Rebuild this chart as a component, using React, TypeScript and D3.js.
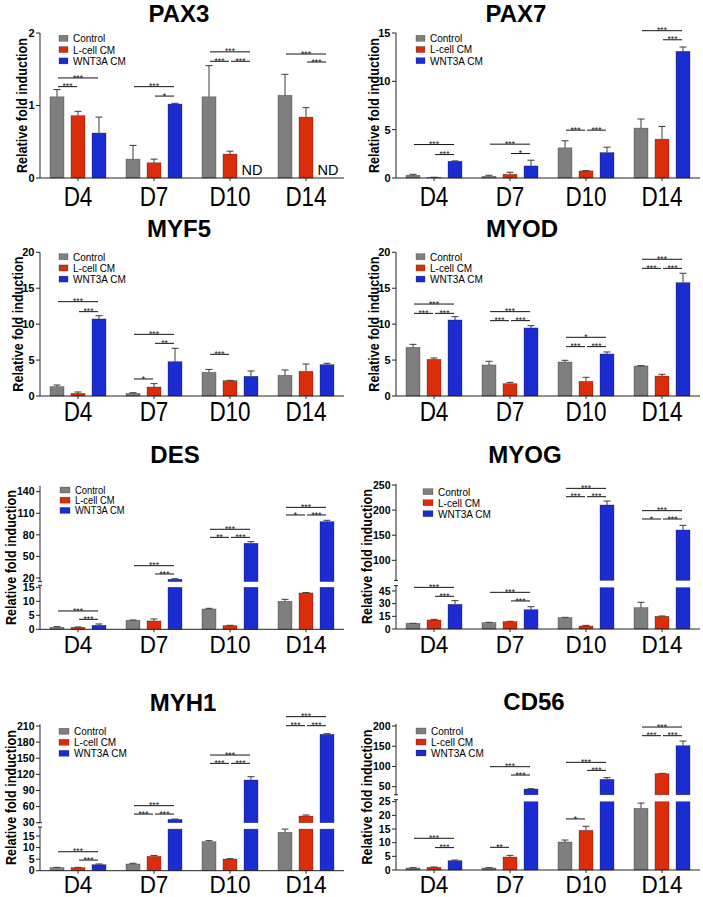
import React from 'react';
import * as d3 from 'd3';

const DAYS = ['D4', 'D7', 'D10', 'D14'];
const SERIES = ['Control', 'L-cell CM', 'WNT3A CM'];
const COLORS = ['#7f7f7f', '#dc2d0b', '#1b2dd1'];
const FONT = "'Liberation Sans', Arial, Helvetica, sans-serif";

// ---- data: means (null = ND) and SD, per gene, series order Control / L-cell / WNT3A ----
const pax3Control = [1.12, 0.26, 1.12, 1.14];
const pax3ControlSd = [0.1, 0.19, 0.43, 0.29];
const pax3Lcell = [0.86, 0.21, 0.33, 0.84];
const pax3LcellSd = [0.06, 0.05, 0.04, 0.13];
const pax3Wnt = [0.62, 1.02, null, null];
const pax3WntSd = [0.22, 0.01, 0, 0];

const pax7Control = [0.28, 0.17, 3.12, 5.16];
const pax7ControlSd = [0.1, 0.11, 0.73, 0.94];
const pax7Lcell = [0.05, 0.38, 0.73, 4.02];
const pax7LcellSd = [0.03, 0.21, 0.03, 1.31];
const pax7Wnt = [1.73, 1.25, 2.63, 13.1];
const pax7WntSd = [0.04, 0.59, 0.56, 0.45];

const myf5Control = [1.3, 0.37, 3.29, 2.88];
const myf5ControlSd = [0.23, 0.09, 0.41, 0.74];
const myf5Lcell = [0.37, 1.25, 2.13, 3.43];
const myf5LcellSd = [0.19, 0.47, 0.05, 1.02];
const myf5Wnt = [10.72, 4.78, 2.74, 4.36];
const myf5WntSd = [0.46, 1.86, 0.74, 0.19];

const myodControl = [6.77, 4.32, 4.73, 4.18];
const myodControlSd = [0.42, 0.51, 0.24, 0.04];
const myodLcell = [5.1, 1.72, 2.04, 2.78];
const myodLcellSd = [0.19, 0.18, 0.56, 0.24];
const myodWnt = [10.58, 9.47, 5.85, 15.78];
const myodWntSd = [0.46, 0.32, 0.28, 1.3];

const desControl = [0.71, 3.2, 7.26, 10.0];
const desControlSd = [0.24, 0.13, 0.24, 0.7];
const desLcell = [0.7, 2.98, 1.31, 12.98];
const desLcellSd = [0.13, 0.72, 0.12, 0.12];
const desWnt = [1.43, 18.2, 68.2, 98.3];
const desWntSd = [0.47, 0.8, 2.3, 1.9];

const myogControl = [6.7, 7.5, 13.4, 25.3];
const myogControlSd = [0.1, 0.4, 0.4, 6.3];
const myogLcell = [10.66, 8.7, 3.55, 15.0];
const myogLcellSd = [0.74, 0.4, 0.75, 0.4];
const myogWnt = [29.2, 22.9, 210.2, 160.4];
const myogWntSd = [4.4, 3.5, 7.9, 9.3];

const myh1Control = [1.3, 2.9, 12.55, 16.6];
const myh1ControlSd = [0.14, 0.3, 0.45, 1.4];
const myh1Lcell = [1.3, 6.2, 5.05, 42.4];
const myh1LcellSd = [0.14, 0.4, 0.15, 1.9];
const myh1Wnt = [2.6, 36.2, 109.5, 194.5];
const myh1WntSd = [0.3, 0.6, 6.2, 1.2];

const cd56Control = [0.73, 0.73, 10.24, 22.56];
const cd56ControlSd = [0.12, 0.12, 0.74, 1.94];
const cd56Lcell = [0.98, 4.76, 14.5, 82.1];
const cd56LcellSd = [0.12, 0.61, 1.5, 0.9];
const cd56Wnt = [3.41, 44.2, 68.1, 151.4];
const cd56WntSd = [0.25, 0.8, 4.2, 11.5];

// significance: [dayIndex, fromSeries, toSeries, level, label, segment(0 lower / 1 upper)]
type Ann = [number, number, number, number, string, number];
const pax3Sig: Ann[] = [
  [0, 0, 1, 1.26, '***', 0], [0, 0, 2, 1.38, '***', 0],
  [1, 0, 2, 1.26, '***', 0], [1, 1, 2, 1.13, '*', 0],
  [2, 0, 2, 1.74, '***', 0], [2, 0, 1, 1.61, '***', 0], [2, 1, 2, 1.61, '***', 0],
  [3, 0, 2, 1.71, '***', 0], [3, 1, 2, 1.6, '***', 0],
];
const pax7Sig: Ann[] = [
  [0, 0, 2, 3.46, '***', 0], [0, 1, 2, 2.42, '***', 0],
  [1, 0, 2, 3.5, '***', 0], [1, 1, 2, 2.53, '*', 0],
  [2, 0, 1, 4.95, '***', 0], [2, 1, 2, 4.95, '***', 0],
  [3, 0, 2, 15.24, '***', 0], [3, 1, 2, 14.3, '***', 0],
];
const myf5Sig: Ann[] = [
  [0, 0, 2, 13.13, '***', 0], [0, 1, 2, 11.74, '***', 0],
  [1, 0, 2, 8.58, '***', 0], [1, 1, 2, 7.33, '**', 0], [1, 0, 1, 2.37, '*', 0],
  [2, 0, 1, 5.8, '***', 0],
];
const myodSig: Ann[] = [
  [0, 0, 2, 12.8, '***', 0], [0, 0, 1, 11.5, '***', 0], [0, 1, 2, 11.5, '***', 0],
  [1, 0, 2, 11.74, '***', 0], [1, 0, 1, 10.49, '***', 0], [1, 1, 2, 10.49, '***', 0],
  [2, 0, 2, 8.17, '*', 0], [2, 0, 1, 6.87, '***', 0], [2, 1, 2, 6.87, '***', 0],
  [3, 0, 2, 19.03, '***', 0], [3, 0, 1, 17.77, '***', 0], [3, 1, 2, 17.77, '***', 0],
];
const desSig: Ann[] = [
  [0, 0, 2, 6.55, '***', 0], [0, 1, 2, 3.57, '***', 0],
  [1, 0, 2, 37.1, '***', 1], [1, 1, 2, 25.6, '***', 1],
  [2, 0, 2, 87.7, '***', 1], [2, 0, 1, 76.5, '**', 1], [2, 1, 2, 76.5, '***', 1],
  [3, 0, 2, 118.2, '***', 1], [3, 0, 1, 107.6, '*', 1], [3, 1, 2, 107.6, '***', 1],
];
const myogSig: Ann[] = [
  [0, 0, 2, 49.3, '***', 0], [0, 1, 2, 38.7, '***', 0],
  [1, 0, 2, 43.4, '***', 0], [1, 1, 2, 33.2, '***', 0],
  [2, 0, 2, 243.3, '***', 1], [2, 0, 1, 226.7, '***', 1], [2, 1, 2, 226.7, '***', 1],
  [3, 0, 2, 198.9, '***', 1], [3, 0, 1, 182.3, '*', 1], [3, 1, 2, 182.3, '***', 1],
];
const myh1Sig: Ann[] = [
  [0, 0, 2, 8.2, '***', 0], [0, 1, 2, 4.6, '***', 0],
  [1, 0, 2, 61.7, '***', 1], [1, 0, 1, 46.1, '***', 1], [1, 1, 2, 46.1, '***', 1],
  [2, 0, 2, 156, '***', 1], [2, 0, 1, 140.5, '***', 1], [2, 1, 2, 140.5, '***', 1],
  [3, 0, 2, 227.4, '***', 1], [3, 0, 1, 210.6, '***', 1], [3, 1, 2, 210.6, '***', 1],
];
const cd56Sig: Ann[] = [
  [0, 0, 2, 11.6, '***', 0], [0, 1, 2, 8.2, '***', 0],
  [1, 0, 1, 8.3, '**', 0], [1, 0, 2, 99.5, '***', 1], [1, 1, 2, 78.9, '***', 1],
  [2, 0, 1, 18.7, '*', 0], [2, 0, 2, 110.2, '***', 1], [2, 1, 2, 90.4, '***', 1],
  [3, 0, 2, 197.5, '***', 1], [3, 0, 1, 176.1, '***', 1], [3, 1, 2, 176.1, '***', 1],
];

// axis ticks
const pax3Ticks = [0, 1, 2];
const pax7Ticks = [0, 5, 10, 15];
const myoTicks = [0, 5, 10, 15, 20];
const desLowTicks = [0, 5, 10, 15];
const desHighTicks = [20, 50, 80, 110, 140];
const myogLowTicks = [0, 15, 30, 45];
const myogHighTicks = [100, 150, 200, 250];
const myh1LowTicks = [0, 5, 10, 15];
const myh1HighTicks = [30, 60, 90, 120, 150, 180, 210];
const cd56LowTicks = [0, 5, 10, 15, 20, 25];
const cd56HighTicks = [50, 100, 150, 200];

type Seg = { domain: [number, number]; range: [number, number]; ticks: number[] };
type Cfg = {
  title: string; titleX: number; titleY: number;
  axisX: number; segs: Seg[];
  means: (number | null)[][]; sds: number[][]; sig: Ann[];
  yTitleX: number; legX: number; legY: number; legStep: number; swW: number; legFont: number;
  labY: number; labScale: number;
};

const PANELS: Cfg[] = [
  {
    title: 'PAX3', titleX: 179, titleY: 22, axisX: 40,
    segs: [{ domain: [0, 2], range: [178, 33], ticks: pax3Ticks }],
    means: [pax3Control, pax3Lcell, pax3Wnt], sds: [pax3ControlSd, pax3LcellSd, pax3WntSd], sig: pax3Sig,
    yTitleX: 21, legX: 59, legY: 38.3, legStep: 11.3, swW: 9, legFont: 10, labY: 206, labScale: 1.25,
  },
  {
    title: 'PAX7', titleX: 516, titleY: 22, axisX: 396,
    segs: [{ domain: [0, 15], range: [178, 33], ticks: pax7Ticks }],
    means: [pax7Control, pax7Lcell, pax7Wnt], sds: [pax7ControlSd, pax7LcellSd, pax7WntSd], sig: pax7Sig,
    yTitleX: 373, legX: 416, legY: 38.3, legStep: 11.2, swW: 9, legFont: 10, labY: 206, labScale: 1.25,
  },
  {
    title: 'MYF5', titleX: 179, titleY: 237, axisX: 40,
    segs: [{ domain: [0, 20], range: [396, 252.3], ticks: myoTicks }],
    means: [myf5Control, myf5Lcell, myf5Wnt], sds: [myf5ControlSd, myf5LcellSd, myf5WntSd], sig: myf5Sig,
    yTitleX: 17, legX: 59, legY: 256.7, legStep: 11.2, swW: 9, legFont: 10, labY: 421, labScale: 1.25,
  },
  {
    title: 'MYOD', titleX: 522, titleY: 237, axisX: 396,
    segs: [{ domain: [0, 20], range: [396, 252.3], ticks: myoTicks }],
    means: [myodControl, myodLcell, myodWnt], sds: [myodControlSd, myodLcellSd, myodWntSd], sig: myodSig,
    yTitleX: 373, legX: 416, legY: 256.7, legStep: 11.2, swW: 9, legFont: 10, labY: 421, labScale: 1.25,
  },
  {
    title: 'DES', titleX: 175, titleY: 463, axisX: 40,
    segs: [
      { domain: [0, 15], range: [629.3, 587.3], ticks: desLowTicks },
      { domain: [15, 148], range: [581.6, 485.9], ticks: desHighTicks },
    ],
    means: [desControl, desLcell, desWnt], sds: [desControlSd, desLcellSd, desWntSd], sig: desSig,
    yTitleX: 10, legX: 60, legY: 490, legStep: 10.2, swW: 10, legFont: 9.4, labY: 653, labScale: 1.05,
  },
  {
    title: 'MYOG', titleX: 525, titleY: 463, axisX: 396,
    segs: [
      { domain: [0, 49], range: [629, 587.6], ticks: myogLowTicks },
      { domain: [60, 252], range: [580.4, 484], ticks: myogHighTicks },
    ],
    means: [myogControl, myogLcell, myogWnt], sds: [myogControlSd, myogLcellSd, myogWntSd], sig: myogSig,
    yTitleX: 366, legX: 423, legY: 491.7, legStep: 11, swW: 10, legFont: 10, labY: 653, labScale: 1.05,
  },
  {
    title: 'MYH1', titleX: 183, titleY: 711, axisX: 40,
    segs: [
      { domain: [0, 18], range: [870.7, 829.1], ticks: myh1LowTicks },
      { domain: [30, 213], range: [822.7, 724.4], ticks: myh1HighTicks },
    ],
    means: [myh1Control, myh1Lcell, myh1Wnt], sds: [myh1ControlSd, myh1LcellSd, myh1WntSd], sig: myh1Sig,
    yTitleX: 10, legX: 59, legY: 731.3, legStep: 11, swW: 10, legFont: 10, labY: 893, labScale: 1.05,
  },
  {
    title: 'CD56', titleX: 534, titleY: 710, axisX: 396,
    segs: [
      { domain: [0, 25], range: [870, 801.7], ticks: cd56LowTicks },
      { domain: [30, 205], range: [794.8, 724], ticks: cd56HighTicks },
    ],
    means: [cd56Control, cd56Lcell, cd56Wnt], sds: [cd56ControlSd, cd56LcellSd, cd56WntSd], sig: cd56Sig,
    yTitleX: 366, legX: 416, legY: 731, legStep: 11, swW: 10, legFont: 10, labY: 893, labScale: 1.05,
  },
];

const AXIS_W = 304;

function Panel({ c }: { c: Cfg }) {
  const x = d3.scaleBand<string>().domain(DAYS).range([c.axisX, c.axisX + AXIS_W]);
  const inner = d3.scaleBand<string>().domain(SERIES).range([-28, 28]).paddingInner(1 / 3);
  const scales = c.segs.map((s) => d3.scaleLinear().domain(s.domain).range(s.range));
  const broken = c.segs.length > 1;
  const loMax = c.segs[0].domain[1];
  const yOf = (v: number) => (broken && v > loMax ? scales[1](v) : scales[0](v));
  const bw = inner.bandwidth();
  const barX = (d: number, s: number) => (x(DAYS[d]) as number) + x.bandwidth() / 2 + (inner(SERIES[s]) as number);
  const barC = (d: number, s: number) => barX(d, s) + bw / 2;
  const y0 = scales[0](0);
  const top = Math.min(...c.segs.map((s) => s.range[1]));
  const bottom = y0;

  const bars: React.ReactNode[] = [];
  c.means.forEach((arr, s) => {
    arr.forEach((v, d) => {
      const bx = barX(d, s);
      if (v === null) {
        bars.push(
          <text key={`nd${s}${d}`} x={bx + bw / 2 + 1} y={y0 - 3} textAnchor="middle" fontSize={14.5} fontFamily={FONT}>ND</text>
        );
        return;
      }
      const stroke = 'rgba(0,0,0,0.45)';
      if (!broken || v <= loMax) {
        const yt = scales[0](v);
        bars.push(<rect key={`b${s}${d}`} x={bx} y={yt} width={bw} height={y0 - yt} fill={COLORS[s]} stroke={stroke} strokeWidth={0.6} />);
      } else {
        const yl = scales[0](loMax);
        bars.push(<rect key={`bl${s}${d}`} x={bx} y={yl} width={bw} height={y0 - yl} fill={COLORS[s]} stroke={stroke} strokeWidth={0.6} />);
        const yb = scales[1](c.segs[1].domain[0]);
        const yt = scales[1](v);
        bars.push(<rect key={`bh${s}${d}`} x={bx} y={yt} width={bw} height={yb - yt} fill={COLORS[s]} stroke={stroke} strokeWidth={0.6} />);
      }
      const sd = c.sds[s][d];
      if (sd > 0) {
        const ya = yOf(v);
        const ye = yOf(v + sd);
        const cx = bx + bw / 2;
        bars.push(
          <g key={`e${s}${d}`} stroke="#3a3a3a" strokeWidth={1}>
            <line x1={cx} x2={cx} y1={ya} y2={ye} />
            <line x1={cx - 3.5} x2={cx + 3.5} y1={ye} y2={ye} />
          </g>
        );
      }
    });
  });

  const sigs = c.sig.map(([d, a, b, lvl, lab, seg], i) => {
    const yy = scales[Math.min(seg, scales.length - 1)](lvl);
    const xa = barC(d, a) + 1;
    const xb = barC(d, b) - 1;
    return (
      <g key={`s${i}`}>
        <line x1={xa} x2={xb} y1={yy} y2={yy} stroke="#111" strokeWidth={1} />
        <text x={(xa + xb) / 2} y={yy + 2.6} textAnchor="middle" fontSize={8.5} fontFamily={FONT} fill="#111">{lab}</text>
      </g>
    );
  });

  const axis: React.ReactNode[] = [];
  c.segs.forEach((s, i) => {
    const sc = scales[i];
    const ya = s.range[0];
    const yb = s.range[1];
    axis.push(<line key={`al${i}`} x1={c.axisX} x2={c.axisX} y1={ya} y2={broken && i === 0 ? yb - 2 : yb} stroke="#222" strokeWidth={1} />);
    if (broken) {
      const ye = i === 0 ? yb - 2 : ya;
      axis.push(<line key={`ab${i}`} x1={c.axisX - 2} x2={c.axisX + 2} y1={ye} y2={ye} stroke="#222" strokeWidth={1} />);
    }
    s.ticks.forEach((t) => {
      const yy = sc(t);
      axis.push(
        <g key={`t${i}-${t}`}>
          <line x1={c.axisX - 4} x2={c.axisX} y1={yy} y2={yy} stroke="#222" strokeWidth={1} />
          <text x={c.axisX - 5.5} y={yy} dy="0.36em" textAnchor="end" fontSize={broken ? 10.5 : 11} fontWeight="bold" fontFamily={FONT}>{t}</text>
        </g>
      );
    });
  });

  const yMid = (top + bottom) / 2;

  return (
    <g>
      <text transform={`translate(${c.titleX},${c.titleY})`} textAnchor="middle" fontSize={24} fontWeight="bold" fontFamily={FONT}>{c.title}</text>
      <text transform={`translate(${c.yTitleX},${yMid}) rotate(-90) scale(1,1.2)`} y={4.6} textAnchor="middle" fontSize={12.6} fontWeight="bold" fontFamily={FONT}>Relative fold induction</text>
      {bars}
      {sigs}
      {axis}
      <line x1={c.axisX} x2={c.axisX + AXIS_W} y1={y0} y2={y0} stroke="#222" strokeWidth={1} />
      {DAYS.map((d) => {
        const cx = (x(d) as number) + x.bandwidth() / 2;
        return (
          <g key={`x${d}`}>
            <line x1={cx} x2={cx} y1={y0} y2={y0 + 3} stroke="#222" strokeWidth={1} />
            <text transform={`translate(${cx},${c.labY}) scale(1,${c.labScale})`} textAnchor="middle" fontSize={22.5} fontFamily={FONT}>{d}</text>
          </g>
        );
      })}
      {SERIES.map((s, i) => {
        const yy = c.legY + i * c.legStep;
        return (
          <g key={`l${s}`}>
            <rect x={c.legX} y={yy - 3} width={c.swW} height={6} fill={COLORS[i]} stroke="rgba(0,0,0,0.45)" strokeWidth={0.5} />
            <text transform={`translate(${c.legX + c.swW + 5},${yy}) scale(1,1.1)`} dy="0.36em" fontSize={c.legFont} fontFamily={FONT}>{s}</text>
          </g>
        );
      })}
    </g>
  );
}

export default function App() {
  return (
    <svg width={703} height={897} style={{ position: 'absolute', left: 0, top: 0, background: '#fff' }}>
      <rect x={0} y={0} width={703} height={897} fill="#fff" />
      {PANELS.map((c) => <Panel key={c.title} c={c} />)}
    </svg>
  );
}
